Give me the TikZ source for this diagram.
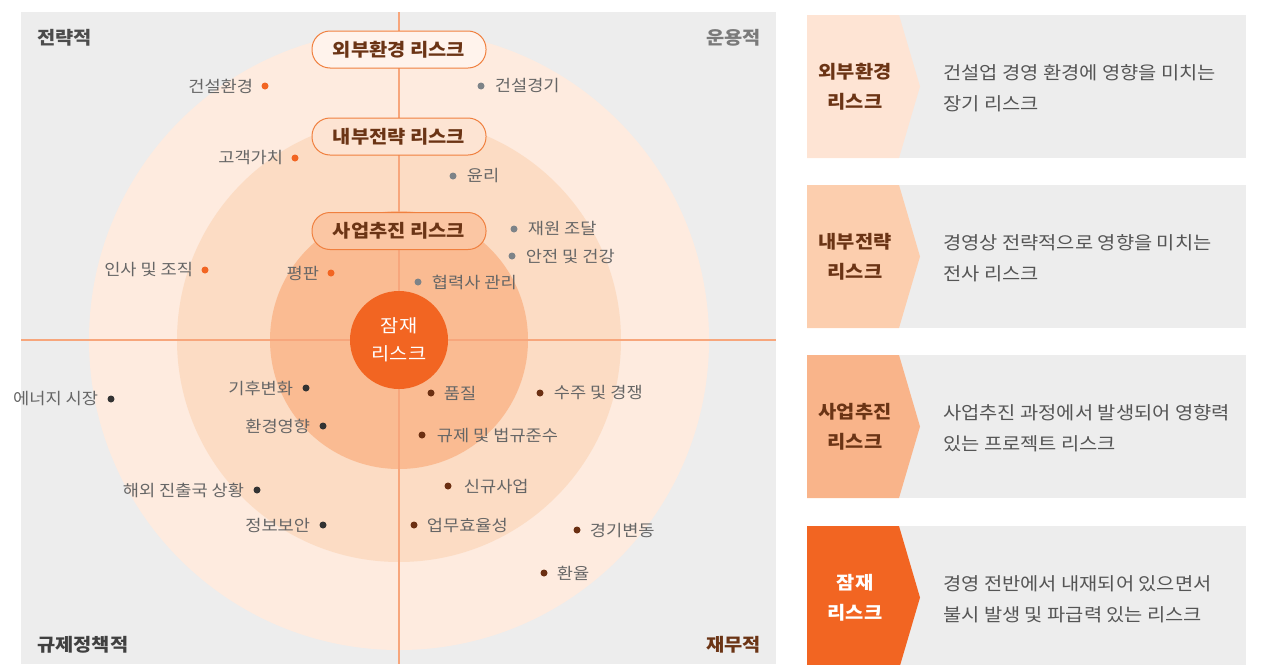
\documentclass[tikz,border=0pt]{standalone}
\usepackage{fontspec}
\setmainfont[FakeStretch=1.1]{Noto Sans CJK KR}
\usetikzlibrary{positioning}
\definecolor{bggray}{HTML}{EDEDED}
\definecolor{cone}{HTML}{FEEBDF}
\definecolor{ctwo}{HTML}{FCDCC4}
\definecolor{cthree}{HTML}{FABB92}
\definecolor{cfour}{HTML}{F26522}
\definecolor{axisc}{HTML}{F7A67C}
\definecolor{pillborder}{HTML}{F0803F}
\definecolor{pillone}{HTML}{FFF3EC}
\definecolor{pilltwo}{HTML}{FDE4D3}
\definecolor{pillthree}{HTML}{FBC6A3}
\definecolor{brownt}{HTML}{6B3415}
\definecolor{txtgray}{HTML}{666666}
\definecolor{desct}{HTML}{555555}
\definecolor{dottl}{HTML}{F26522}
\definecolor{dottr}{HTML}{7D8388}
\definecolor{dotbl}{HTML}{333333}
\definecolor{dotbr}{HTML}{6B2F12}
\definecolor{chone}{HTML}{FEE4D4}
\definecolor{chtwo}{HTML}{FCCEAE}
\definecolor{chthree}{HTML}{F9B48A}
\tikzset{
  dotnode/.style={circle, inner sep=0pt, minimum size=7pt},
  lbl/.style={font=\fontsize{16}{19}\selectfont, text=txtgray, inner sep=0pt},
  pill/.style={draw=pillborder, line width=1pt, rounded corners=18pt, minimum width=174pt, minimum height=37pt, inner sep=0pt, font=\bfseries\fontsize{18}{21}\selectfont, text=brownt},
  corner/.style={font=\bfseries\fontsize{18}{21}\selectfont, inner sep=0pt},
  chevlbl/.style={font=\bfseries\fontsize{18}{30}\selectfont, align=center, inner sep=0pt, text=brownt},
  desc/.style={font=\fontsize{18}{31}\selectfont, align=left, inner sep=0pt, text=desct, anchor=west},
}
\begin{document}
\begin{tikzpicture}[x=1pt,y=-1pt]
\useasboundingbox (0,0) rectangle (1281,664);
\begin{scope}
\clip (0,0) rectangle (1281,664);
% left panel
\fill[bggray] (21,12) rectangle (776,664);
\fill[cone] (399,340) circle (310);
\fill[ctwo] (399,340) circle (222);
\fill[cthree] (399,340) circle (129);
\draw[axisc, line width=1.5pt] (399,12) -- (399,664);
\draw[axisc, line width=1.5pt] (21,340) -- (776,340);
\node[circle, fill=cfour, minimum size=98pt, inner sep=0pt, text=white, font=\fontsize{18}{28}\selectfont, align=center] (core) at (399,340) {잠재\\리스크};
\node[pill, fill=pillone] (p1) at (399,49.5) {외부환경 리스크};
\node[pill, fill=pilltwo] (p2) at (399,136.5) {내부전략 리스크};
\node[pill, fill=pillthree] (p3) at (399,231) {사업추진 리스크};
% corner labels
\node[corner, text=black!70, anchor=west] (k1) at (37,38) {전략적};
\node[corner, text=black!52, anchor=east] (k2) at (761,38) {운용적};
\node[corner, text=black!75, anchor=west] (k3) at (37,645) {규제정책적};
\node[corner, text=brownt, anchor=east] (k4) at (761,645) {재무적};
% TL items
\node[dotnode, fill=dottl] (a1) at (265,86) {};
\node[lbl, left=8pt of a1] (la1) {건설환경};
\node[dotnode, fill=dottl] (a2) at (295,158) {};
\node[lbl, left=8pt of a2] (la2) {고객가치};
\node[dotnode, fill=dottl] (a3) at (205,270) {};
\node[lbl, left=8pt of a3] (la3) {인사 및 조직};
\node[dotnode, fill=dottl] (a4) at (331,273) {};
\node[lbl, left=8pt of a4] (la4) {평판};
% TR items
\node[dotnode, fill=dottr] (b1) at (481,86) {};
\node[lbl, right=10pt of b1] (lb1) {건설경기};
\node[dotnode, fill=dottr] (b2) at (453,176) {};
\node[lbl, right=10pt of b2] (lb2) {윤리};
\node[dotnode, fill=dottr] (b3) at (514,229) {};
\node[lbl, right=10pt of b3] (lb3) {재원 조달};
\node[dotnode, fill=dottr] (b4) at (512,256) {};
\node[lbl, right=10pt of b4] (lb4) {안전 및 건강};
\node[dotnode, fill=dottr] (b5) at (418,282) {};
\node[lbl, right=10pt of b5] (lb5) {협력사 관리};
% BL items
\node[dotnode, fill=dotbl] (c1) at (111,399) {};
\node[lbl, left=9pt of c1] (lc1) {에너지 시장};
\node[dotnode, fill=dotbl] (c2) at (306,388) {};
\node[lbl, left=9pt of c2] (lc2) {기후변화};
\node[dotnode, fill=dotbl] (c3) at (323,426) {};
\node[lbl, left=9pt of c3] (lc3) {환경영향};
\node[dotnode, fill=dotbl] (c4) at (257,490) {};
\node[lbl, left=9pt of c4] (lc4) {해외 진출국 상황};
\node[dotnode, fill=dotbl] (c5) at (323,525) {};
\node[lbl, left=9pt of c5] (lc5) {정보보안};
% BR items
\node[dotnode, fill=dotbr] (d1) at (431,393) {};
\node[lbl, right=9pt of d1] (ld1) {품질};
\node[dotnode, fill=dotbr] (d2) at (540,393) {};
\node[lbl, right=10pt of d2] (ld2) {수주 및 경쟁};
\node[dotnode, fill=dotbr] (d3) at (422,435) {};
\node[lbl, right=11pt of d3] (ld3) {규제 및 법규준수};
\node[dotnode, fill=dotbr] (d4) at (448,486) {};
\node[lbl, right=12pt of d4] (ld4) {신규사업};
\node[dotnode, fill=dotbr] (d5) at (414,525) {};
\node[lbl, right=9pt of d5] (ld5) {업무효율성};
\node[dotnode, fill=dotbr] (d6) at (577,530) {};
\node[lbl, right=9pt of d6] (ld6) {경기변동};
\node[dotnode, fill=dotbr] (d7) at (544,573) {};
\node[lbl, right=9pt of d7] (ld7) {환율};
% right panel
\foreach \t/\c in {15/chone, 185/chtwo, 355/chthree, 526/cfour}{
  \fill[bggray] (807,\t) rectangle (1246,\t+143);
  \fill[\c] (807,\t) -- (899,\t) -- (920,\t+71.5) -- (899,\t+143) -- (807,\t+143) -- cycle;
}
\node[chevlbl] (h1) at (855,86.5) {외부환경\\리스크};
\node[chevlbl] (h2) at (855,256.5) {내부전략\\리스크};
\node[chevlbl] (h3) at (855,426.5) {사업추진\\리스크};
\node[chevlbl, text=white] (h4) at (855,597.5) {잠재\\리스크};
\node[desc] (e1) at (943,88) {건설업 경영 환경에 영향을 미치는\\장기 리스크};
\node[desc] (e2) at (943,258) {경영상 전략적으로 영향을 미치는\\전사 리스크};
\node[desc] (e3) at (943,428) {사업추진 과정에서 발생되어 영향력\\있는 프로젝트 리스크};
\node[desc] (e4) at (943,599) {경영 전반에서 내재되어 있으면서\\불시 발생 및 파급력 있는 리스크};
\end{scope}
\end{tikzpicture}
\end{document}
